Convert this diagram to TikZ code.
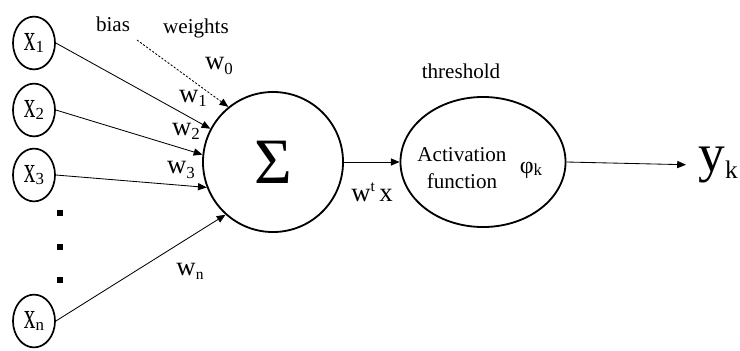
\documentclass[tikz,border=0pt]{standalone}
\usepackage{fontspec}
\setmainfont{Liberation Serif}
\usetikzlibrary{shapes.geometric,arrows.meta}
\newcommand\lowidx[3]{#1\raisebox{#3}{\fontsize{12}{12}\selectfont #2}}
\newcommand\tallx{\scalebox{0.75}[1.2]{x}}
\begin{document}
\begin{tikzpicture}[x=0.025cm, y=-0.025cm,
        inp/.style={draw, ellipse, line width=1.2pt, minimum width=1.05cm, minimum height=1.32cm, inner sep=0pt, font=\fontsize{22}{22}\selectfont},
        lbl/.style={font=\fontsize{15}{19}\selectfont, inner sep=0pt},
        wlbl/.style={font=\fontsize{19}{19}\selectfont, inner sep=0pt},
        link/.style={-{Triangle[length=2.2mm,width=1.8mm]}, line width=0.6pt}]
    \useasboundingbox (0,0) rectangle (740,350);
    \node[inp] (x1) at (34,43) {\lowidx{\tallx}{1}{-2pt}};
    \node[inp] (x2) at (34,110) {\lowidx{\tallx}{2}{-2pt}};
    \node[inp] (x3) at (34,175) {\lowidx{\tallx}{3}{-2pt}};
    \node[inp] (xn) at (34,321) {\lowidx{\tallx}{n}{-2pt}};
    \foreach \yy in {210,244,277} \fill (57,\yy) rectangle ++(6,6);
    \node[draw, circle, minimum size=3.5cm, line width=1.3pt, font=\fontsize{46}{46}\selectfont] (sum) at (273,162) {Σ};
    \node[draw, ellipse, minimum width=4.125cm, minimum height=3.25cm, line width=1.3pt] (act) at (483,162) {};
    \node[lbl, align=center] (actname) at (462,168) {Activation\\function};
    \node[lbl, font=\fontsize{17}{17}\selectfont] (phi) at (531,170) {\lowidx{φ}{k}{-2pt}};
    \node[anchor=west, inner sep=0pt, font=\fontsize{38}{38}\selectfont] (yk) at (698,165) {\lowidx{y}{\fontsize{18}{18}\selectfont k}{-5pt}};
    \node[lbl] (threshold) at (461,71) {threshold};
    \node[lbl] (bias) at (113,24) {bias};
    \node[lbl] (weights) at (196,28) {weights};
    \node[wlbl] (w0) at (219,66) {\lowidx{w}{0}{-3pt}};
    \node[wlbl] (w1) at (193,98) {\lowidx{w}{1}{-3pt}};
    \node[wlbl] (w2) at (186,131) {\lowidx{w}{2}{-3pt}};
    \node[wlbl] (w3) at (181,170) {\lowidx{w}{3}{-3pt}};
    \node[wlbl] (wn) at (190,271) {\lowidx{w}{\fontsize{11}{11}\selectfont n}{-3pt}};
    \node[wlbl] (wtx) at (372,192) {w\raisebox{7pt}{\fontsize{11}{11}\selectfont t}\,x};
    \coordinate (biastail) at (137,40);
    \draw[link] (x1.east) -- (sum.152);
    \draw[link] (x2.east) -- (sum.174);
    \draw[link] (x3.east) -- (sum.201);
    \draw[link] (xn.east) -- (sum.228);
    \draw[link, dash pattern=on 1.5pt off 1.2pt] (biastail) -- (sum.129);
    \draw[link] (sum.east) -- (act.west);
    \draw[link, shorten >=0.3cm] (act.east) -- (yk.west);
\end{tikzpicture}
\end{document}
